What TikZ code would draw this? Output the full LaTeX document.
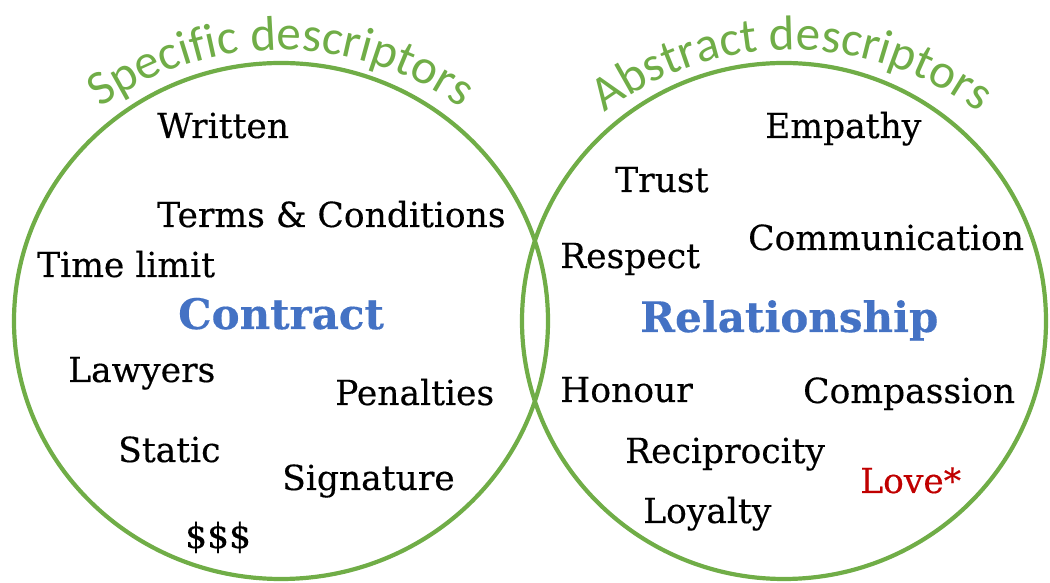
\documentclass[tikz,border=0pt]{standalone}
\usepackage{fontspec}
\setmainfont{DejaVu Serif}[FakeBold=0.35]
\newfontfamily\arcfont{Carlito}
\usetikzlibrary{decorations.text}
\definecolor{vgreen}{HTML}{70AD47}
\definecolor{vblue}{HTML}{4472C4}
\definecolor{vred}{HTML}{C00000}
\tikzset{
  x=1pt, y=1pt,
  ring/.style={draw=vgreen, line width=4.2pt},
  word/.style={anchor=base west, inner sep=0pt, font=\fontsize{34.5}{40}\selectfont, text=black},
  title/.style={anchor=base west, inner sep=0pt, font=\fontsize{42}{48}\selectfont\bfseries, text=vblue},
  arctext/.style={decorate, decoration={text along path, text align=center,
      text color=vgreen, text={|\arcfont\fontsize{49}{54}\selectfont|#1}}}
}
\begin{document}
\begin{tikzpicture}
\useasboundingbox (0,0) rectangle (1050,583);
% circles
\draw[ring] (281,262) ellipse [x radius=267, y radius=258];
\draw[ring] (784,262) ellipse [x radius=262, y radius=258];
% curved headings
\path[arctext={Specific descriptors}] (281,223) ++(165:310) arc[start angle=165, end angle=15, radius=310];
\path[arctext={Abstract descriptors}] (792,223) ++(165:310) arc[start angle=165, end angle=15, radius=310];
% left words
\node[word] (written) at (157,445) {Written};
\node[word] (terms) at (157,356) {Terms \& Conditions};
\node[word] (time) at (37,306) {Time limit};
\node[title] (contract) at (178,254) {Contract};
\node[word] (lawyers) at (68,201) {Lawyers};
\node[word] (penalties) at (335,178) {Penalties};
\node[word] (static) at (118,121) {Static};
\node[word] (signature) at (282,93) {Signature};
\node[word] (money) at (185,35) {\$\$\$};
% right words
\node[word] (empathy) at (765,445) {Empathy};
\node[word] (trust) at (615,391) {Trust};
\node[word] (communication) at (748,333) {Communication};
\node[word] (respect) at (560,315) {Respect};
\node[title] (relationship) at (640,251) {Relationship};
\node[word] (honour) at (560,181) {Honour};
\node[word] (compassion) at (803,180) {Compassion};
\node[word] (reciprocity) at (625,120) {Reciprocity};
\node[word, text=vred] (love) at (860,90) {Love*};
\node[word] (loyalty) at (643,60) {Loyalty};
\end{tikzpicture}
\end{document}
